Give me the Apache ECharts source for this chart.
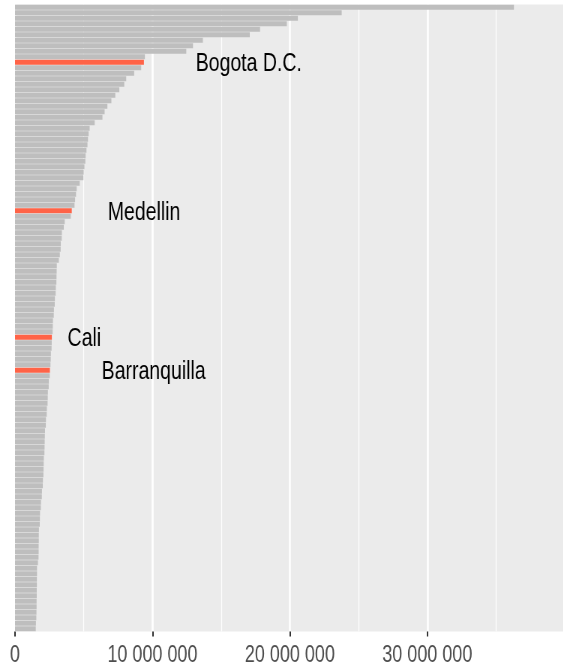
<!DOCTYPE html>
<html>
<head>
<meta charset="utf-8">
<script src="https://cdn.jsdelivr.net/npm/echarts@6/dist/echarts.min.js"></script>
<style>
  html, body { margin: 0; padding: 0; background: #ffffff; overflow: hidden; }
  #wrap { width: 563px; height: 668px; overflow: hidden; }
  #chart { width: 756px; height: 668px; transform: scaleX(0.75); transform-origin: 0 0; }
</style>
</head>
<body>
<div id="wrap"><div id="chart"></div></div>
<script>
// Categories (top to bottom), only the highlighted ones are named in the picture
const highlighted = ["Bogota D.C.", "Medellin", "Cali", "Barranquilla"];
const categories = [
  "C01","C02","C03","C04","C05","C06","C07","C08","C09","C10",
  "Bogota D.C.","C12","C13","C14","C15","C16","C17","C18","C19","C20",
  "C21","C22","C23","C24","C25","C26","C27","C28","C29","C30",
  "C31","C32","C33","C34","C35","C36","C37","Medellin","C39","C40",
  "C41","C42","C43","C44","C45","C46","C47","C48","C49","C50",
  "C51","C52","C53","C54","C55","C56","C57","C58","C59","C60",
  "Cali","C62","C63","C64","C65","C66","Barranquilla","C68","C69","C70",
  "C71","C72","C73","C74","C75","C76","C77","C78","C79","C80",
  "C81","C82","C83","C84","C85","C86","C87","C88","C89","C90",
  "C91","C92","C93","C94","C95","C96","C97","C98","C99","C100",
  "C101","C102","C103","C104","C105","C106","C107","C108","C109","C110",
  "C111","C112","C113","C114"
];
const values = [
  36300000,23770000,20580000,19780000,17830000,17080000,13670000,12950000,12460000,9450000,
  9380000,9180000,8670000,8090000,7950000,7590000,7300000,7010000,6720000,6520000,
  6360000,5800000,5430000,5360000,5310000,5270000,5200000,5140000,5120000,5050000,
  5000000,4980000,4710000,4490000,4440000,4370000,4330000,4130000,4060000,3620000,
  3550000,3410000,3400000,3330000,3320000,3260000,3190000,3040000,3030000,3020000,
  3010000,2970000,2960000,2900000,2890000,2830000,2820000,2760000,2750000,2740000,
  2680000,2670000,2660000,2610000,2600000,2580000,2540000,2530000,2460000,2450000,
  2390000,2380000,2370000,2320000,2310000,2250000,2240000,2180000,2170000,2160000,
  2150000,2140000,2100000,2090000,2080000,2070000,2030000,2020000,1960000,1950000,
  1890000,1880000,1820000,1810000,1800000,1740000,1730000,1730000,1720000,1720000,
  1710000,1670000,1600000,1600000,1590000,1590000,1580000,1580000,1570000,1570000,
  1560000,1550000,1520000,1510000
];
const xTicks = [0, 10000000, 20000000, 30000000];

// label placement (style only)
const labelDistance = { "Bogota D.C.": 69, "Medellin": 48, "Cali": 21, "Barranquilla": 69 };

const grey = "#BEBEBE", red = "#FF6347";
const seriesData = values.map((v, i) => {
  const name = categories[i];
  const hl = highlighted.includes(name);
  const item = { value: v, itemStyle: { color: hl ? red : grey } };
  if (hl) {
    item.label = {
      show: true, position: "right", distance: labelDistance[name], offset: [0, 2],
      formatter: name, color: "#000000", fontSize: 26,
      fontFamily: "Liberation Sans, Arial, sans-serif"
    };
  }
  return item;
});

const chart = echarts.init(document.getElementById("chart"), null, { renderer: "canvas" });
chart.setOption({
  animation: false,
  backgroundColor: "#ffffff",
  grid: { left: 20, right: 0, top: 4.5, bottom: 36.5, show: true, backgroundColor: "#EBEBEB", borderWidth: 0 },
  xAxis: {
    type: "value", min: 0, max: 40000000, interval: 10000000,
    axisLine: { show: false },
    axisTick: { show: true, length: 5, lineStyle: { color: "#333333", width: 2 } },
    axisLabel: {
      color: "#4D4D4D", fontSize: 24, margin: 12,
      fontFamily: "Liberation Sans, Arial, sans-serif",
      formatter: v => xTicks.includes(v) ? String(v).replace(/\B(?=(\d{3})+(?!\d))/g, " ") : ""
    },
    splitLine: { show: true, lineStyle: { color: "#ffffff", width: 2.6 } },
    minorTick: { show: false, splitNumber: 2 },
    minorSplitLine: { show: true, lineStyle: { color: "#ffffff", width: 1.3 } }
  },
  yAxis: {
    type: "category", data: categories, inverse: true,
    axisLine: { show: false }, axisTick: { show: false }, axisLabel: { show: false },
    splitLine: { show: false }
  },
  series: [{
    type: "bar", data: seriesData, barCategoryGap: "10%",
    label: { show: false }
  }]
});
</script>
</body>
</html>
